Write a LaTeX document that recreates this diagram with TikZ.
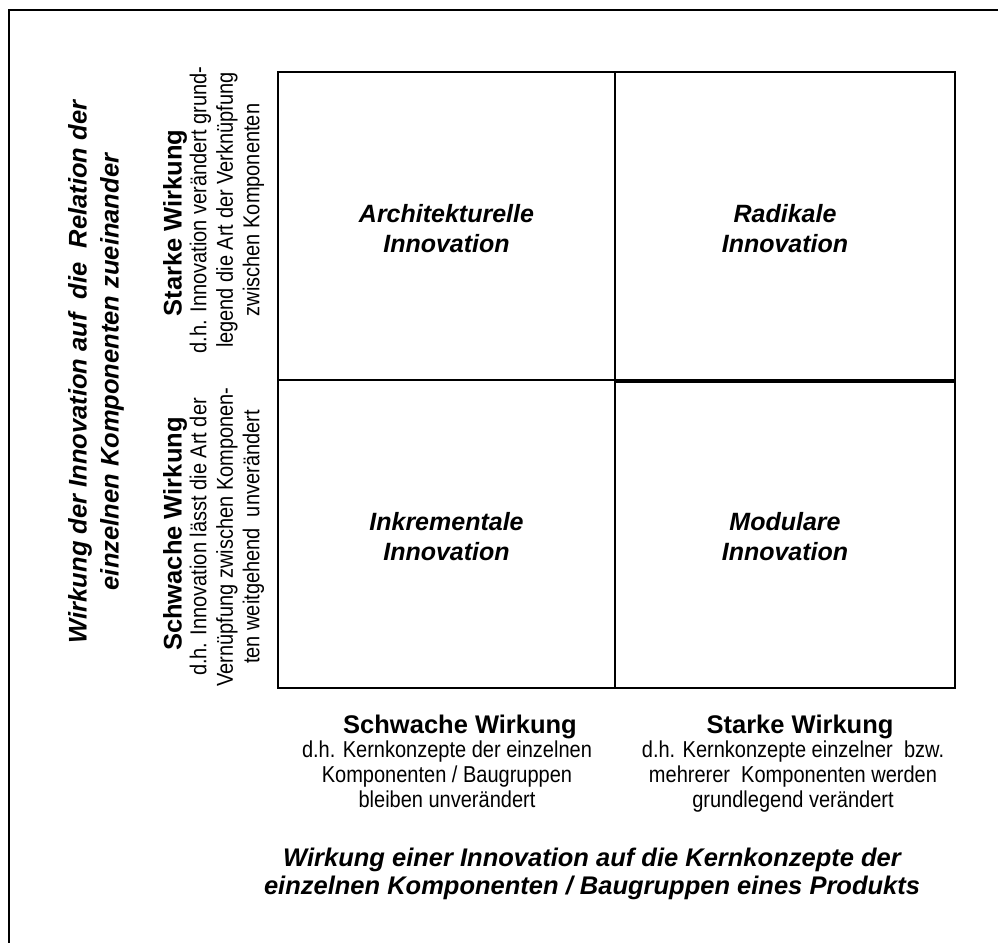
\documentclass[tikz,border=0pt]{standalone}
\usepackage{fontspec}
\setmainfont{Liberation Sans}
\newfontfamily\narrowfont{Liberation Sans}[FakeStretch=0.87]
\usetikzlibrary{positioning}

\newcommand{\fsz}[2]{\fontsize{#1}{#2}\selectfont}

\tikzset{
    quad/.style={draw, line width=2pt, minimum width=337pt, minimum height=308pt, inner sep=0pt},
    qlabel/.style={align=center, inner sep=0pt, font=\fsz{25}{30}\bfseries\itshape},
    head/.style={inner sep=0pt, font=\fsz{25.5}{30}\bfseries},
    sub/.style={align=center, inner sep=0pt, font=\narrowfont\fsz{23}{#1}},
    sub/.default=25,
    axis/.style={align=center, inner sep=0pt, font=\fsz{25.5}{#1}\bfseries\itshape},
    axis/.default=28
}

\begin{document}
\begin{tikzpicture}[x=1pt, y=-1pt]
    \useasboundingbox (0,0) rectangle (998,942);
    % outer frame (runs off the page on the right and bottom)
    \draw[line width=2pt] (9,10) rectangle (1010,960);

    % the four fields
    \node[quad] (arch) at (446.5,226) {};
    \node[quad, minimum width=340pt] (radi) at (785,226) {};
    \node[quad] (inkr) at (446.5,534) {};
    \node[quad, minimum width=340pt] (modu) at (785,534) {};
    \draw[line width=3pt] (radi.south west) -- (radi.south east);

    % field labels
    \foreach \n/\first in {arch/Architekturelle, radi/Radikale, inkr/Inkrementale, modu/Modulare} {
        \node[qlabel] (\n l) at ([yshift=-3pt]\n.center) {\first\\Innovation};
    }

    % x axis
    \node[head, anchor=base] (schwx) at (460,733) {Schwache Wirkung};
    \node[head, anchor=base] (starkx) at (800,733) {Starke Wirkung};
    \node[sub, anchor=north] (schwxt) at (447,741)
        {d.h. Kernkonzepte der einzelnen\\Komponenten / Baugruppen\\bleiben unverändert};
    \node[sub, anchor=north] (starkxt) at (793,741)
        {d.h. Kernkonzepte einzelner\ \ bzw.\\mehrerer\ \ Komponenten werden\\grundlegend verändert};
    \node[axis, anchor=north] (xaxis) at (592,848)
        {Wirkung einer Innovation auf die Kernkonzepte der\\einzelnen Komponenten / Baugruppen eines Produkts};

    % y axis
    \node[axis=32, rotate=90] (yaxis) at (96,372)
        {Wirkung der Innovation auf\ \ die\ \ Relation der\\einzelnen Komponenten zueinander};
    \node[head, rotate=90] (starky) at (175,223) {Starke Wirkung};
    \node[sub=26.5, rotate=90] (starkyt) at (227,210)
        {d.h. Innovation verändert grund-\\legend die Art der Verknüpfung\\zwischen Komponenten};
    \node[head, rotate=90] (schwy) at (175,534) {Schwache Wirkung};
    \node[sub=26.5, rotate=90] (schwyt) at (227,537)
        {d.h. Innovation lässt die Art der\\Vernüpfung zwischen Komponen-\\ten weitgehend\ \ unverändert};
\end{tikzpicture}
\end{document}
